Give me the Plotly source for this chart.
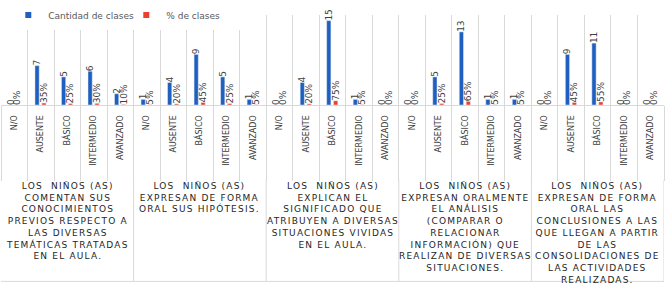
import plotly.graph_objects as go

# Niveles por indicador
niveles = ["N/O", "AUSENTE", "BÁSICO", "INTERMEDIO", "AVANZADO"]

indicadores = [
    ["LOS  NIÑOS (AS)", "COMENTAN SUS", "CONOCIMIENTOS", "PREVIOS RESPECTO A",
     "LAS DIVERSAS", "TEMÁTICAS TRATADAS", "EN EL AULA."],
    ["LOS  NIÑOS (AS)", "EXPRESAN DE FORMA", "ORAL SUS HIPÓTESIS."],
    ["LOS  NIÑOS (AS)", "EXPLICAN EL", "SIGNIFICADO QUE", "ATRIBUYEN A DIVERSAS",
     "SITUACIONES VIVIDAS", "EN EL AULA."],
    ["LOS  NIÑOS (AS)", "EXPRESAN ORALMENTE", "EL ANÁLISIS", "(COMPARAR O",
     "RELACIONAR", "INFORMACIÓN) QUE", "REALIZAN DE DIVERSAS", "SITUACIONES."],
    ["LOS  NIÑOS (AS)", "EXPRESAN DE FORMA", "ORAL LAS", "CONCLUSIONES A LAS",
     "QUE LLEGAN A PARTIR", "DE LAS", "CONSOLIDACIONES DE", "LAS ACTIVIDADES",
     "REALIZADAS."],
]

cantidad = [
    [0, 7, 5, 6, 2],
    [1, 4, 9, 5, 1],
    [0, 4, 15, 1, 0],
    [0, 5, 13, 1, 1],
    [0, 9, 11, 0, 0],
]
porcentaje = [
    [0, 35, 25, 30, 10],
    [5, 20, 45, 25, 5],
    [0, 20, 75, 5, 0],
    [0, 25, 65, 5, 5],
    [0, 45, 55, 0, 0],
]

AZUL = "#1f5fbf"
ROJO = "#e8412c"
GRIS = "#d9d9d9"
FONT = "DejaVu Sans"

n_niv = len(niveles)
n_grp = len(indicadores)
xs = list(range(n_grp * n_niv))
cant_flat = [v for fila in cantidad for v in fila]
pct_flat = [v / 100 for fila in porcentaje for v in fila]
pct_txt = [f"{v}%" for fila in porcentaje for v in fila]


def spaced(s, ls):
    return f"<span style='letter-spacing:{ls}px'>{s}</span>"


fig = go.Figure()
fig.add_trace(go.Bar(
    x=xs, y=cant_flat, width=0.16, offset=-0.22, marker_color=AZUL,
    text=[str(v) for v in cant_flat], textposition="outside", textangle=-90,
    constraintext="none", cliponaxis=False, showlegend=False,
    textfont=dict(family=FONT, size=9, color="#404040"),
))
fig.add_trace(go.Bar(
    x=xs, y=pct_flat, width=0.16, offset=0.04, marker_color=ROJO,
    text=pct_txt, textposition="outside", textangle=-90,
    constraintext="none", cliponaxis=False, showlegend=False,
    textfont=dict(family=FONT, size=9, color="#404040"),
))
# entradas de leyenda con marcador pequeño
for nombre, col in [("Cantidad de clases", AZUL), ("% de clases", ROJO)]:
    fig.add_trace(go.Scatter(x=[None], y=[None], mode="markers", name=nombre,
                             marker=dict(symbol="square", size=6, color=col)))

sep = [i - 0.5 for i in range(len(xs) + 1)]
fig.update_xaxes(
    range=[-0.5, len(xs) - 0.5], tickmode="array", tickvals=xs,
    ticktext=[niveles[i % n_niv] for i in xs], tickangle=-90, ticks="",
    tickfont=dict(family=FONT, size=8, color="#404040"), automargin=False,
    ticklabelstandoff=6,
    showgrid=False, zeroline=False, showline=True, linecolor=GRIS,
    minor=dict(tickmode="array", tickvals=sep, ticks="outside", ticklen=75,
               tickcolor=GRIS, showgrid=True, gridcolor=GRIS),
)
fig.update_yaxes(range=[0, 16], showticklabels=False, showgrid=False,
                 zeroline=False, showline=False, automargin=False)

for g, lineas in enumerate(indicadores):
    fig.add_annotation(
        x=g * n_niv + (n_niv - 1) / 2, xref="x", y=-0.825, yref="paper",
        yanchor="top", showarrow=False, align="center",
        text="<br>".join(spaced(l, 1.2) for l in lineas),
        font=dict(family=FONT, size=9, color="#262626"),
    )
    fig.add_shape(type="line", xref="x", yref="paper",
                  x0=(g + 1) * n_niv - 0.5, x1=(g + 1) * n_niv - 0.5,
                  y0=-0.83, y1=-1.96, line=dict(color=GRIS, width=1))
fig.add_shape(type="line", xref="paper", yref="paper", x0=0, x1=1,
              y0=-1.96, y1=-1.96, line=dict(color=GRIS, width=1))

fig.update_layout(
    width=672, height=292, barmode="overlay",
    margin=dict(l=1, r=8, t=15, b=187, autoexpand=False),
    paper_bgcolor="white", plot_bgcolor="white",
    legend=dict(orientation="h", x=0.011, xanchor="left", y=1.0,
                yanchor="middle", bgcolor="white", entrywidth=73,
                entrywidthmode="pixels", itemwidth=30,
                font=dict(family=FONT, size=9, color="#595959")),
    showlegend=True,
)
config = {'displayModeBar': False}
# sin el margen por defecto del <body>
fig.write_html("out.html", config=config,
               post_script="document.body.style.margin='0';")
